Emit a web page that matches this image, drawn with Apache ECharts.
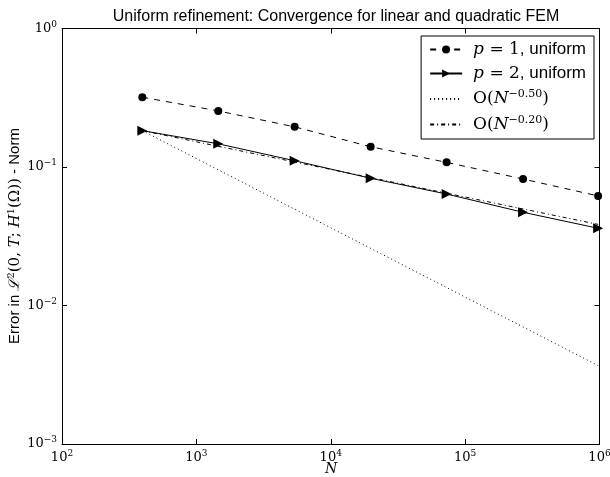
<!DOCTYPE html>
<html><head><meta charset="utf-8">
<script src="https://cdn.jsdelivr.net/npm/echarts@6/dist/echarts.min.js"></script>
<style>html,body{margin:0;padding:0;background:#fff}#c{width:610px;height:477px}</style>
</head><body><div id="c"></div>
<script>
// ---- data ----
const N_p1 = [396, 1455, 5385, 19820, 72800, 270000, 977000];
const err_p1 = [0.319, 0.254, 0.195, 0.140, 0.108, 0.0819, 0.0618];
const N_p2 = [396, 1455, 5385, 19820, 72800, 270000, 977000];
const err_p2 = [0.183, 0.147, 0.111, 0.0829, 0.0638, 0.0471, 0.0361];
const N_ref = [396, 977000];
const ref050 = [0.183, 0.00368];
const ref020 = [0.183, 0.0385];
const xRange = [1e2, 1e6];
const yRange = [1e-3, 1e0];
const legendLabels = {
  p1: '{m|p}{n| = 1}{s|, uniform}',
  p2: '{m|p}{n| = 2}{s|, uniform}',
  r05: '{n|O(}{m|N}{sup|−0.50}{n|)}',
  r02: '{n|O(}{m|N}{sup|−0.20}{n|)}'
};
const title = 'Uniform refinement: Convergence for linear and quadratic FEM';
const xName = 'N';
const yName = '{s|Error in }{m|ℒ}{sup|2}{n|(0, }{m|T}{n|; }{m|H}{sup|1}{n|(Ω))}{s| - Norm}';

const pair = (xs, ys) => xs.map((x, i) => [x, ys[i]]);
const supFmt = v => { const e = Math.round(Math.log10(v)); return '{b|10}{sup|' + (e < 0 ? '−' + (-e) : e) + '}'; };
const serif = 'DejaVu Serif';
const black = '#000';
const tickRich = {
  b: {fontFamily: serif, fontSize: 13, color: black},
  sup: {fontFamily: serif, fontSize: 9, color: black, padding: [0, 0, 8, 0]}
};

function ax(range, pos, labels) {
  return {
    type: 'log', logBase: 10, min: range[0], max: range[1], position: pos,
    axisLine: {show: true, onZero: false, lineStyle: {color: black, width: 1}},
    splitLine: {show: false},
    axisTick: {show: true, inside: true, length: 5, lineStyle: {color: black, width: 1}},
    axisLabel: labels ? {show: true, formatter: supFmt, rich: tickRich, margin: 5} : {show: false}
  };
}

const chart = echarts.init(document.getElementById('c'), null, {renderer: 'canvas'});
chart.setOption({
  animation: false,
  backgroundColor: '#fff',
  title: {text: title, left: 331, textAlign: 'center', top: 4,
    textStyle: {fontFamily: 'Liberation Sans', fontSize: 16, fontWeight: 'normal', color: black}},
  grid: {left: 62, right: 10.5, top: 28.5, bottom: 33, outerBoundsMode: 'none'},
  xAxis: [ax(xRange, 'bottom', true), ax(xRange, 'top', false)],
  yAxis: [ax(yRange, 'left', true), ax(yRange, 'right', false)],
  graphic: [
    {type: 'text', x: 331, y: 469, silent: true,
      style: {text: xName, font: 'italic 14px "DejaVu Serif"', fill: black, align: 'center', verticalAlign: 'middle'}},
    {type: 'text', x: 15, y: 236, rotation: Math.PI / 2, silent: true,
      style: {text: yName, align: 'center', verticalAlign: 'middle', rich: {
        s: {fontFamily: 'Liberation Sans', fontSize: 15, fill: black, color: black},
        m: {fontFamily: serif, fontStyle: 'italic', fontSize: 15, fill: black, color: black},
        n: {fontFamily: serif, fontSize: 15, fill: black, color: black},
        sup: {fontFamily: serif, fontSize: 10, fill: black, color: black, padding: [0, 0, 8, 0]}
      }}}
  ],
  legend: {
    data: [
      {name: 'p1'}, {name: 'p2'},
      {name: 'r05', itemStyle: {opacity: 0}}, {name: 'r02', itemStyle: {opacity: 0}}
    ],
    orient: 'vertical', right: 16, top: 36,
    backgroundColor: '#fff', borderColor: black, borderWidth: 1, borderRadius: 0,
    padding: [5, 8, 6, 8], itemGap: 7, itemWidth: 32, itemHeight: 10,
    formatter: n => legendLabels[n],
    textStyle: {padding: [0, 0, 0, 6], rich: {
      m: {fontFamily: serif, fontStyle: 'italic', fontSize: 17, color: black},
      n: {fontFamily: serif, fontSize: 17, color: black},
      s: {fontFamily: 'Liberation Sans', fontSize: 17, color: black},
      sup: {fontFamily: serif, fontSize: 11, color: black, padding: [0, 0, 9, 0]}
    }}
  },
  series: [
    {name: 'p1', type: 'line', data: pair(N_p1, err_p1), symbol: 'circle', symbolSize: 8,
      itemStyle: {color: black}, lineStyle: {color: black, width: 1, type: [6, 6]}, z: 3},
    {name: 'p2', type: 'line', data: pair(N_p2, err_p2), symbol: 'triangle', symbolRotate: -90, symbolSize: 10,
      itemStyle: {color: black}, lineStyle: {color: black, width: 1, type: 'solid'}, z: 3},
    {name: 'r05', type: 'line', data: pair(N_ref, ref050), symbol: 'none',
      itemStyle: {color: black}, lineStyle: {color: black, width: 1, type: [1, 3]}, z: 2},
    {name: 'r02', type: 'line', data: pair(N_ref, ref020), symbol: 'none',
      itemStyle: {color: black}, lineStyle: {color: black, width: 1, type: [4, 3, 1, 3]}, z: 2}
  ]
});
</script></body></html>
